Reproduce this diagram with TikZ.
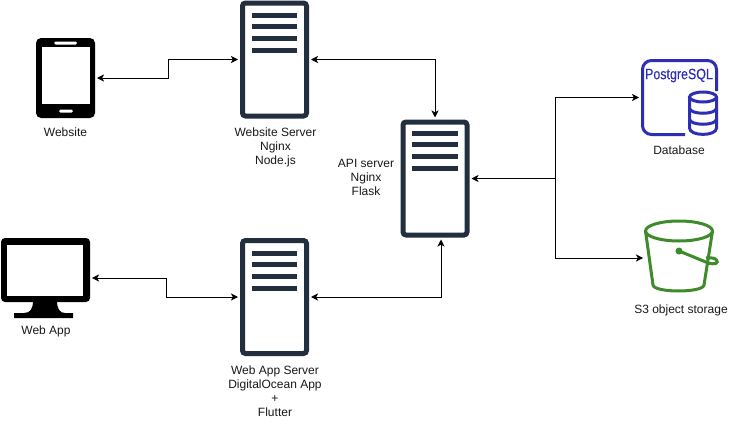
\documentclass[tikz,border=0pt]{standalone}
\usepackage{fontspec}
\setmainfont{Liberation Sans}
\newfontfamily\pgfont[FakeBold=0.25]{Liberation Sans}
\usetikzlibrary{arrows.meta,calc}
\definecolor{srv}{HTML}{232F3E}
\definecolor{pg}{HTML}{2E2EB4}
\definecolor{sgreen}{HTML}{3F8B2B}
\tikzset{
  serverbox/.style={draw=srv,line width=5pt,rounded corners=3pt,rectangle,minimum width=64pt,minimum height=113pt,outer sep=4.5pt,inner sep=0pt},
  iconbox/.style={rectangle,inner sep=0pt,outer sep=2pt},
  lab/.style={font=\fontsize{12}{14}\selectfont,align=center,inner sep=0pt,text=black!90},
  bar/.style={fill=srv,draw=none},
  link/.style={draw=black,line width=1pt,{Stealth[length=7pt,width=7pt,inset=1.8pt]}-{Stealth[length=7pt,width=7pt,inset=1.8pt]}},
  linkone/.style={draw=black,line width=1pt,-{Stealth[length=7pt,width=7pt,inset=1.8pt]}},
  plain/.style={draw=black,line width=1pt},
  pgline/.style={draw=pg,line width=3pt},
  s3line/.style={draw=sgreen,line width=3pt},
}
\newcommand{\serverbars}[3]{%
  \foreach \yy in {0,11.7,23.4,35}{\fill[srv] (#1,#3+\yy-2.5) rectangle (#2,#3+\yy+2.5);}%
}
\begin{document}
\begin{tikzpicture}[x=1pt,y=-1pt]
\useasboundingbox (0,0) rectangle (742,431);
\fill[white] (0,0) rectangle (742,431);
% servers
\node[serverbox] (web) at (274.5,59.5) {};
\node[serverbox] (app) at (274.5,297) {};
\node[serverbox] (api) at (435,178.5) {};
\serverbars{252}{297}{15}
\serverbars{252}{297}{253}
\serverbars{412}{458}{133}
% phone
\node[iconbox,minimum width=59pt,minimum height=80pt] (phone) at (65.5,78) {};
\fill[black,rounded corners=5pt] (36,38) rectangle (95,118);
\fill[white] (42,47) rectangle (90,104);
\fill[white,rounded corners=1.5pt] (54,41.5) rectangle (77,44.5);
\fill[white,rounded corners=1.5pt] (59,109.5) rectangle (73,112.5);
% monitor
\node[iconbox,minimum width=89pt,minimum height=80pt] (mon) at (45.5,278) {};
\fill[black,rounded corners=4pt] (1,238) rectangle (90,302);
\fill[white] (7,245) rectangle (83,296);
\fill[black] (33,301) .. controls (33,309) and (30,313) .. (24,313) -- (14,313) -- (14,318) -- (73,318) -- (73,313) -- (65,313) .. controls (60,313) and (57,309) .. (57,301) -- cycle;
% postgres
\node[iconbox,minimum width=77pt,minimum height=77pt] (db) at (679.5,97.5) {};
\draw[pgline,rounded corners=9pt] (716.5,91) -- (716.5,60.5) -- (642.5,60.5) -- (642.5,134.5) -- (685,134.5);
\node[inner sep=0pt,text=pg,font=\pgfont\fontsize{15}{15}\selectfont,xscale=.83] (pgtxt) at (679,75.5) {PostgreSQL};
\draw[pgline] (689.5,97) -- (689.5,128) .. controls (689.5,136.5) and (716.5,136.5) .. (716.5,128) -- (716.5,97);
\draw[pgline] (703,97) ellipse [x radius=13.5pt,y radius=5pt];
\draw[pgline] (689.5,108) .. controls (689.5,115) and (716.5,115) .. (716.5,108);
\draw[pgline] (689.5,119) .. controls (689.5,126) and (716.5,126) .. (716.5,119);
% s3
\node[iconbox,minimum width=76pt,minimum height=76pt] (s3) at (683,258) {};
\draw[s3line] (679,231) ellipse [x radius=33.5pt,y radius=10pt];
\draw[s3line,line join=round] (645.5,231) -- (653,285) .. controls (654,293) and (703,293) .. (704,285) -- (712.5,231);
\fill[sgreen] (679,251) circle (3.5pt);
\draw[s3line] (679,251) -- (707,262.5) .. controls (715,265.5) and (719,263) .. (716.5,260) .. controls (714,257) and (709,258) .. (706,258);
% labels
\node[lab] (l1) at (65.5,132) {Website};
\node[lab] (l2) at (275.5,147) {Website Server\\Nginx\\Node.js};
\node[lab] (l3) at (366,177) {API server\\Nginx\\Flask};
\node[lab] (l4) at (46,331) {Web App};
\node[lab] (l5) at (275,391) {Web App Server\\DigitalOcean App\\+\\Flutter};
\node[lab] (l6) at (679,150) {Database};
\node[lab] (l7) at (681,310) {S3 object storage};
% connectors
\coordinate (a1) at (168,78);
\coordinate (a2) at (166,278);
\coordinate (jn) at (555,178.5);
\coordinate (apib) at ($(api.south)+(6,0)$);
\draw[link] (phone.east) -- (a1) -- (a1 |- web.west) -- (web.west);
\draw[link] (mon.east) -- (a2) -- (a2 |- app.west) -- (app.west);
\draw[link] (web.east) -| (api.north);
\draw[link] (app.east) -| (apib);
\draw[link] (api.east) -- (jn) |- (db.west);
\draw[linkone] (jn) |- (s3.west);
\end{tikzpicture}
\end{document}
